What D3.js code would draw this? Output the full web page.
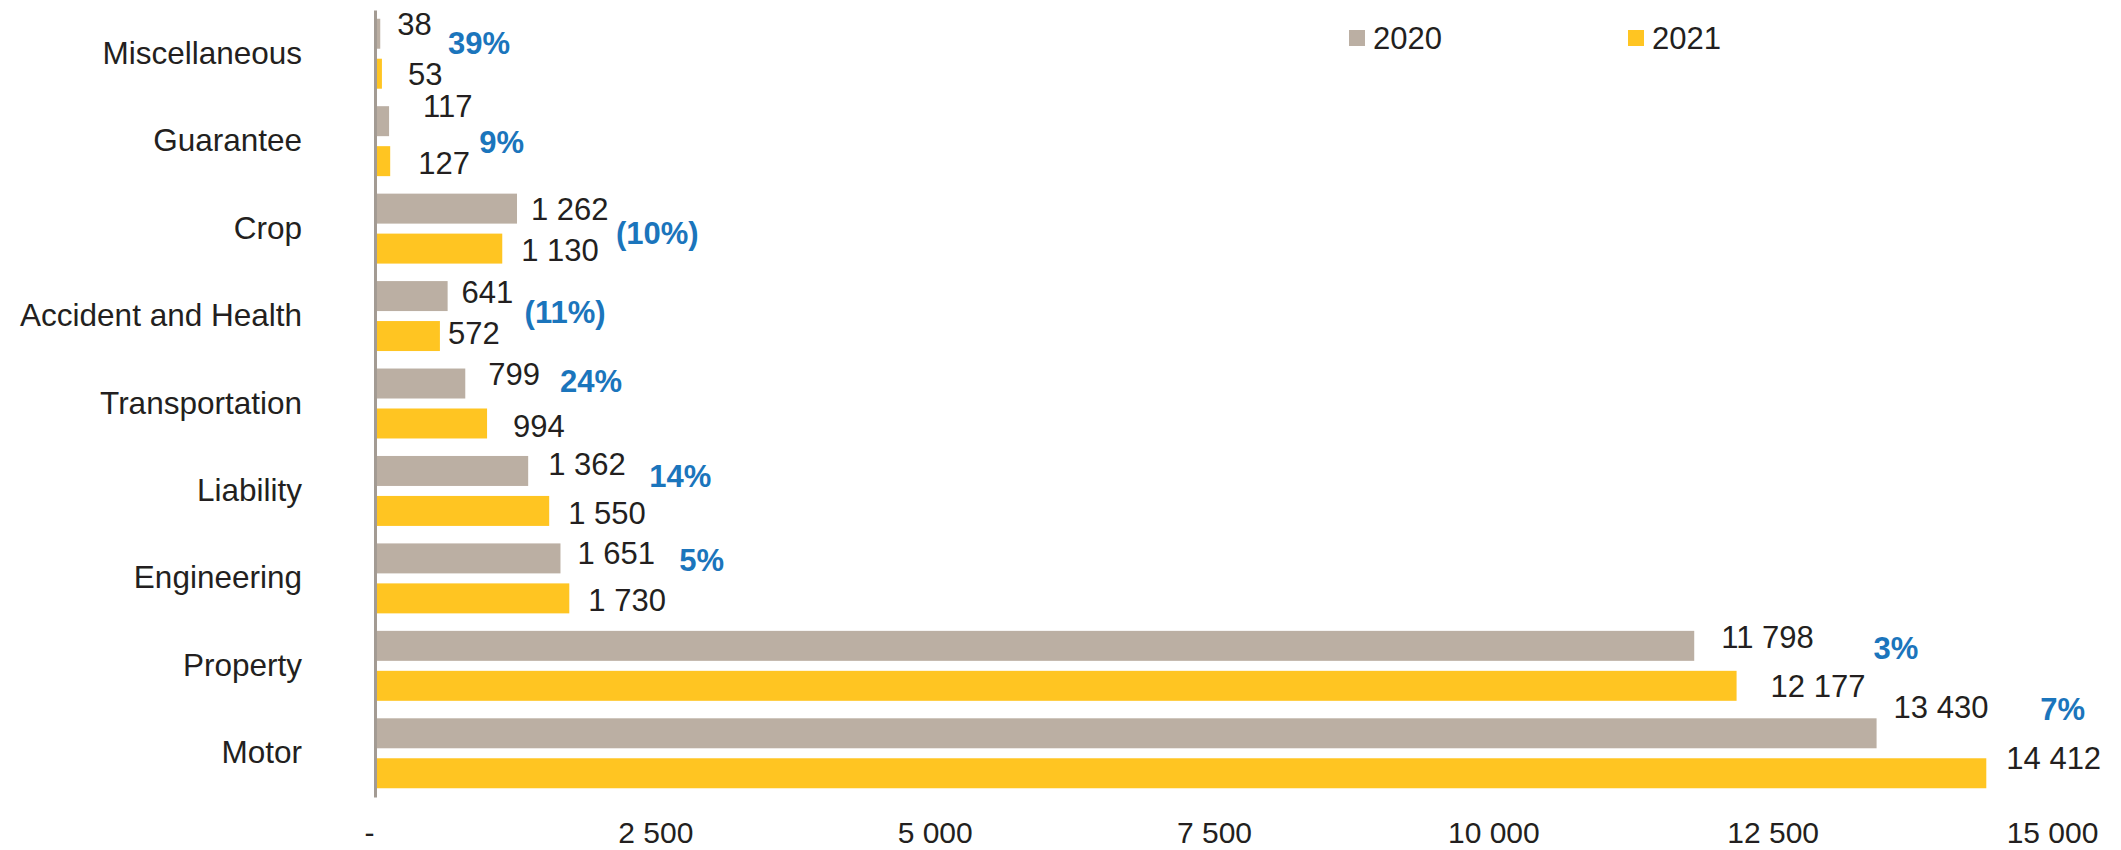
<!DOCTYPE html>
<html>
<head>
<meta charset="utf-8">
<script src="https://cdn.jsdelivr.net/npm/d3@7"></script>
<style>
  html, body { margin: 0; padding: 0; background: #ffffff; }
  svg { display: block; }
  text { font-family: "Liberation Sans", Arial, sans-serif; fill: #231f20; }
</style>
</head>
<body>
<svg id="chart" width="2121" height="850"></svg>
<script>
// Gross premiums by line of business, 2020 vs 2021
const categories = ["Miscellaneous", "Guarantee", "Crop", "Accident and Health", "Transportation",
                    "Liability", "Engineering", "Property", "Motor"];
const values2020 = [38, 117, 1262, 641, 799, 1362, 1651, 11798, 13430];
const values2021 = [53, 127, 1130, 572, 994, 1550, 1730, 12177, 14412];
const seriesNames = ["2020", "2021"];
const xTicks = [0, 2500, 5000, 7500, 10000, 12500, 15000];

// Layout: hand-placed label offsets (px) from bar end / bar centre
const nudge2020 = { dx: [17, 34, 14, 14, 23, 20, 17, 27, 17], dy: [-10, -15, 0, -4, -10, -7, -6, -9, -26] };
const nudge2021 = { dx: [26, 28, 19, 8, 26, 19, 19, 34, 20], dy: [0, 2, 1, -3, 2, 2, 1, 0, -15] };
const nudgePct  = { dx: [66, 89, 99, 77, 73, 100, 110, 137, 54], dy: [-11, 1, 4, -4, -23, -15, -19, -18, -44] };

const colors = { "2020": "#bbafa3", "2021": "#ffc522" };
const pctColor = "#1b75bc";
const fontSize = 31;

const svg = d3.select("#chart");

const x = d3.scaleLinear().domain([0, 15000]).range([376, 2052]);
const y = d3.scaleBand().domain(categories).range([10, 797]).paddingInner(0.2).paddingOuter(0.1);
const ySub = d3.scaleBand().domain(seriesNames).range([0, y.bandwidth()]).paddingInner(0.25);

const locale = d3.formatLocale({ decimal: ".", thousands: " ", grouping: [3], currency: ["", ""] });
const fmt = locale.format(",d");

const rows = categories.map((c, i) => ({ cat: c, i, v: { "2020": values2020[i], "2021": values2021[i] } }));

// Bars
const groups = svg.append("g").selectAll("g")
  .data(rows).join("g")
  .attr("transform", d => `translate(0,${y(d.cat)})`);

groups.selectAll("rect")
  .data(d => seriesNames.map(s => ({ s, v: d.v[s] })))
  .join("rect")
  .attr("x", x(0))
  .attr("y", d => ySub(d.s))
  .attr("width", d => x(d.v) - x(0))
  .attr("height", ySub.bandwidth())
  .attr("fill", d => colors[d.s]);

// Category axis (left line with labels)
const yAxis = svg.append("g")
  .attr("transform", `translate(375,0)`)
  .call(d3.axisLeft(y).tickSize(0).tickSizeOuter(0).tickPadding(73));
yAxis.select(".domain").attr("stroke", "#a39b93").attr("stroke-width", 3);
yAxis.selectAll("text").style("font-size", "31.5px").attr("fill", "#231f20");

// Value axis (labels only)
const xAxis = svg.append("g")
  .attr("transform", "translate(0,800)")
  .call(d3.axisBottom(x).tickValues(xTicks).tickSize(0).tickPadding(22)
    .tickFormat(v => v === 0 ? "-" : fmt(v)));
xAxis.select(".domain").remove();
xAxis.selectAll("text").style("font-size", "30px").attr("fill", "#231f20")
  .attr("dx", v => v === 0 ? -7 : 0);

// Value labels
const labels = svg.append("g").style("font-size", fontSize + "px");
rows.forEach(d => {
  const top = y(d.cat);
  labels.append("text")
    .attr("x", x(d.v["2020"]) + nudge2020.dx[d.i])
    .attr("y", top + ySub("2020") + ySub.bandwidth() / 2 + nudge2020.dy[d.i])
    .attr("dy", "0.36em")
    .text(fmt(d.v["2020"]));
  labels.append("text")
    .attr("x", x(d.v["2021"]) + nudge2021.dx[d.i])
    .attr("y", top + ySub("2021") + ySub.bandwidth() / 2 + nudge2021.dy[d.i])
    .attr("dy", "0.36em")
    .text(fmt(d.v["2021"]));

  // Year-on-year change
  const change = Math.round((d.v["2021"] / d.v["2020"] - 1) * 100);
  const pctText = change < 0 ? `(${Math.abs(change)}%)` : `${change}%`;
  labels.append("text")
    .attr("x", x(Math.max(d.v["2020"], d.v["2021"])) + nudgePct.dx[d.i])
    .attr("y", top + y.bandwidth() / 2 + nudgePct.dy[d.i])
    .attr("dy", "0.36em")
    .style("font-weight", "bold")
    .style("fill", pctColor)
    .text(pctText);
});

// Legend
const legendX = d3.scaleOrdinal().domain(seriesNames).range([1349, 1628]);
const legend = svg.append("g").selectAll("g")
  .data(seriesNames).join("g")
  .attr("transform", s => `translate(${legendX(s)},30)`);
legend.append("rect").attr("width", 16).attr("height", 16).attr("fill", s => colors[s]);
legend.append("text").attr("x", 24).attr("y", 8).attr("dy", "0.36em")
  .style("font-size", fontSize + "px").text(s => s);
</script>
</body>
</html>
